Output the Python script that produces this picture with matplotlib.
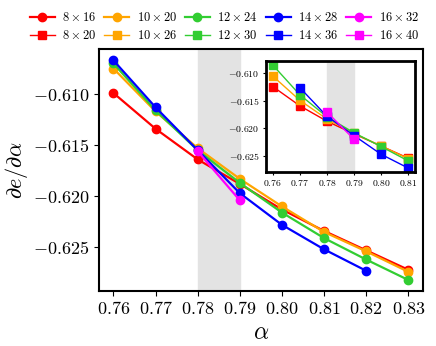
import matplotlib
matplotlib.use("Agg")
import matplotlib.pyplot as plt
from matplotlib.ticker import FuncFormatter

plt.rcParams['mathtext.fontset'] = 'cm'
plt.rcParams['font.family'] = 'serif'
plt.rcParams['font.serif'] = ['DejaVu Serif']

colors = ['red', 'orange', 'limegreen', 'blue', 'magenta']

# main panel: circles
labels_main = [r'$8\times16$', r'$10\times20$', r'$12\times24$', r'$14\times28$', r'$16\times32$']
alpha_main = [
    [0.76, 0.77, 0.78, 0.79, 0.80, 0.81, 0.82, 0.83],
    [0.76, 0.77, 0.78, 0.79, 0.80, 0.81, 0.82, 0.83],
    [0.76, 0.77, 0.78, 0.79, 0.80, 0.81, 0.82, 0.83],
    [0.76, 0.77, 0.78, 0.79, 0.80, 0.81, 0.82],
    [0.78, 0.79],
]
dedalpha_main = [
    [-0.6099, -0.6134, -0.6164, -0.6188, -0.6213, -0.6234, -0.6253, -0.6272],
    [-0.6075, -0.6117, -0.6153, -0.6183, -0.6210, -0.6235, -0.6254, -0.6274],
    [-0.6070, -0.6116, -0.6155, -0.6187, -0.6216, -0.6241, -0.6262, -0.6282],
    [-0.6067, -0.6113, -0.6155, -0.6197, -0.6228, -0.6252, -0.6273],
    [-0.6156, -0.6204],
]

# inset: squares
labels_ins = [r'$8\times20$', r'$10\times26$', r'$12\times30$', r'$14\times36$', r'$16\times40$']
alpha_ins = [
    [0.76, 0.77, 0.78, 0.79, 0.80, 0.81],
    [0.76, 0.77, 0.78, 0.79, 0.80, 0.81],
    [0.76, 0.77, 0.78, 0.79, 0.80, 0.81],
    [0.77, 0.78, 0.79, 0.80, 0.81],
    [0.78, 0.79],
]
dedalpha_ins = [
    [-0.6124, -0.6159, -0.6187, -0.6210, -0.6232, -0.6254],
    [-0.6105, -0.6149, -0.6183, -0.6209, -0.6232, -0.6255],
    [-0.6085, -0.6139, -0.6179, -0.6208, -0.6233, -0.6259],
    [-0.6126, -0.6178, -0.6213, -0.6247, -0.6272],
    [-0.6170, -0.6220],
]

main_ticks = [0.76, 0.77, 0.78, 0.79, 0.80, 0.81, 0.82, 0.83]
main_yticks = [-0.610, -0.615, -0.620, -0.625]
ins_ticks = [0.76, 0.77, 0.78, 0.79, 0.80, 0.81]
ins_yticks = [-0.610, -0.615, -0.620, -0.625]

fig = plt.figure(figsize=(4.36, 3.46), dpi=100)
ax = fig.add_axes([0.2264, 0.16, 0.7436, 0.698])

ax.axvspan(0.78, 0.79, color='#e3e3e3', zorder=0)
handles = []
for c, lab, xs, ys in zip(colors, labels_main, alpha_main, dedalpha_main):
    h, = ax.plot(xs, ys, '-o', color=c, lw=1.6, ms=6, label=lab)
    handles.append(h)

ax.set_xticks(main_ticks)
ax.set_yticks(main_yticks)
ax.set_ylim(-0.62925, -0.6056)
ax.xaxis.set_major_formatter(FuncFormatter(lambda v, p: r'$%.2f$' % v))
ax.yaxis.set_major_formatter(FuncFormatter(lambda v, p: r'$%.3f$' % v))
ax.tick_params(labelsize=13)
ax.set_xlabel(r'$\alpha$', fontsize=17, labelpad=2)
ax.set_ylabel(r'$\partial e/\partial\alpha$', fontsize=16, labelpad=2)
for s in ax.spines.values():
    s.set_linewidth(1.5)

ins = fig.add_axes([0.610, 0.504, 0.3417, 0.3208])
ins.axvspan(0.78, 0.79, color='#e3e3e3', zorder=0)
handles2 = []
for c, lab, xs, ys in zip(colors, labels_ins, alpha_ins, dedalpha_ins):
    h, = ins.plot(xs, ys, '-s', color=c, lw=1.0, ms=5.5, label=lab)
    handles2.append(h)
ins.set_xticks(ins_ticks)
ins.set_yticks(ins_yticks)
ins.set_ylim(-0.62785, -0.6077)
ins.xaxis.set_major_formatter(FuncFormatter(lambda v, p: r'$%.2f$' % v))
ins.yaxis.set_major_formatter(FuncFormatter(lambda v, p: r'$%.3f$' % v))
ins.tick_params(labelsize=7, length=2.5, pad=2)
for s in ins.spines.values():
    s.set_linewidth(2)

order = []
lbls = []
for h1, h2 in zip(handles, handles2):
    order += [h1, h2]
    lbls += [h1.get_label(), h2.get_label()]
fig.legend(order, lbls, loc='upper center', bbox_to_anchor=(0.515, 0.99), ncol=5,
           frameon=False, fontsize=9, handlelength=2.0, columnspacing=0.6,
           handletextpad=0.6, borderaxespad=0.2, labelspacing=0.4)

fig.savefig('out.png', dpi=100)
